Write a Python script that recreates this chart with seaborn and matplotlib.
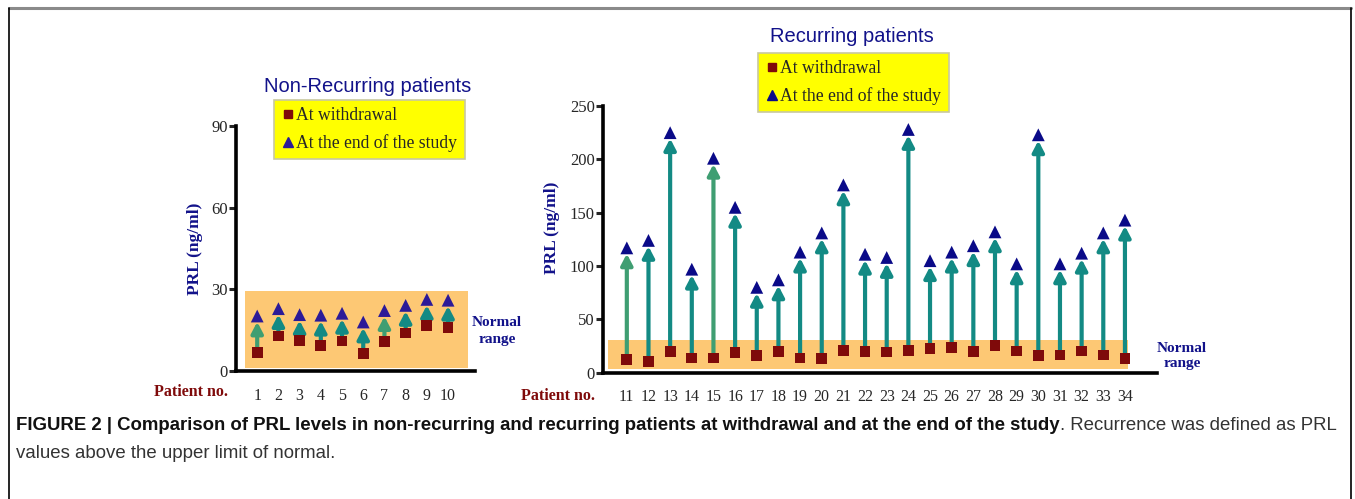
import matplotlib
matplotlib.use('Agg')
import matplotlib.pyplot as plt
import seaborn as sns
import numpy as np
from matplotlib.lines import Line2D

sns.set_style('white')
plt.rcParams['font.family'] = ['Liberation Serif', 'DejaVu Serif']

# data
non_rec_patients = list(range(1, 11))
non_rec_withdrawal = [6.7, 12.9, 11.3, 9.4, 11.0, 6.3, 10.7, 14.0, 16.7, 15.9]
non_rec_end = [20.2, 22.9, 20.7, 20.5, 21.2, 18.0, 22.2, 24.1, 26.3, 26.0]

rec_patients = list(range(11, 35))
rec_withdrawal = [12.5, 10.3, 20.0, 13.8, 13.8, 19.0, 16.0, 20.0, 13.8, 13.0, 21.0, 20.0,
                  19.4, 21.0, 22.5, 23.8, 19.7, 25.6, 20.3, 16.0, 16.6, 20.3, 16.6, 13.4]
rec_end = [117, 124, 225, 97, 201, 155, 80, 87, 113, 131, 176, 111,
           108, 228, 105, 113, 119, 132, 102, 223, 102, 112, 131, 143]

non_rec_normal = (1, 29.5)
rec_normal = (3, 31)

RED = '#7f0a0a'
NAVY = '#12128a'
TEAL = '#138a84'
LIGHT_TEAL = '#3f9e72'
BAND = '#fdc874'

fig = plt.figure(figsize=(13.55, 4.99), dpi=100)


def panel(ax, pats, wd, end, normal, xlim, ylim, yticks, band_x, tri_color, light,
          title, title_xy, leg_xy, normal_xy, ylab_xy):
    ax.fill_between(band_x, normal[0], normal[1], color=BAND, lw=0, zorder=0)
    for p, a, b in zip(pats, wd, end):
        col = LIGHT_TEAL if p in light else TEAL
        ax.annotate('', xy=(p, b), xytext=(p, a),
                    arrowprops=dict(arrowstyle='-|>,head_width=0.34,head_length=0.65',
                                    lw=3.0, color=col, shrinkA=3, shrinkB=4.2), zorder=2)
    sns.scatterplot(x=pats, y=wd, marker='s', color=RED, s=60, edgecolor='none', ax=ax, zorder=3)
    sns.scatterplot(x=pats, y=end, marker='^', color=tri_color, s=85, edgecolor='none', ax=ax, zorder=3)
    ax.set_xlim(*xlim)
    ax.set_ylim(*ylim)
    ax.set_yticks(yticks)
    ax.set_xticks(pats)
    ax.set_xticklabels([str(p) for p in pats])
    ax.tick_params(axis='x', length=0, labelsize=11.5, pad=12)
    ax.tick_params(axis='y', length=5, width=2.2, direction='out', labelsize=12, pad=1)
    ax.yaxis.set_ticks_position('left')
    for s in ['top', 'right']:
        ax.spines[s].set_visible(False)
    for s in ['left', 'bottom']:
        ax.spines[s].set_linewidth(2.6)
        ax.spines[s].set_color('black')
    ax.set_ylabel('PRL (ng/ml)', fontweight='bold', color=NAVY, fontsize=12.5)
    ax.yaxis.set_label_coords(*ylab_xy)
    ax.annotate('Patient no.', xy=(0, -0.087), xycoords='axes fraction', xytext=(-5.5, 0),
                textcoords='offset points', ha='right', va='center',
                fontweight='bold', color=RED, fontsize=11.5)
    fig.text(normal_xy[0], normal_xy[1], 'Normal\nrange', ha='center', va='center',
             fontweight='bold', color=NAVY, fontsize=11, linespacing=1.3)
    fig.text(title_xy[0], title_xy[1], title, ha='center', va='center', color=NAVY,
             fontsize=14.5, family=['Liberation Sans', 'DejaVu Sans'])
    handles = [Line2D([], [], ls='none', marker='s', color=RED, markersize=6),
               Line2D([], [], ls='none', marker='^', color=tri_color, markersize=7.5)]
    leg = ax.legend(handles, ['At withdrawal', 'At the end of the study'],
                    loc='upper left', bbox_to_anchor=leg_xy, bbox_transform=fig.transFigure,
                    frameon=True, fancybox=False, facecolor='#ffff00', edgecolor='#c8c8a0',
                    framealpha=1, fontsize=12.7, handlelength=0.7, handletextpad=0.15,
                    labelspacing=0.55, borderpad=0.42, borderaxespad=0)
    leg.get_frame().set_linewidth(1.2)


ax1 = fig.add_axes([236 / 1355, 1 - 371 / 499, 239 / 1355, 245 / 499])
panel(ax1, non_rec_patients, non_rec_withdrawal, non_rec_end, non_rec_normal,
      (0, 11.27), (0, 90), [0, 30, 60, 90], (0.42, 10.94), '#2c1a98', [1, 7],
      'Non-Recurring patients', (368 / 1355, 1 - 86 / 499), (274 / 1355, 1 - 100 / 499),
      (497 / 1355, 1 - 331 / 499), (-0.138, 0.5))

ax2 = fig.add_axes([603 / 1355, 1 - 372.7 / 499, 554 / 1355, 266.7 / 499])
panel(ax2, rec_patients, rec_withdrawal, rec_end, rec_normal,
      (9.9, 35.48), (0, 250), [0, 50, 100, 150, 200, 250], (10.13, 34.15), '#0a0a88', [11, 15],
      'Recurring patients', (852 / 1355, 1 - 37 / 499), (758 / 1355, 1 - 53 / 499),
      (1182 / 1355, 1 - 356 / 499), (-0.077, 0.543))

# frame round the figure
fig.add_artist(Line2D([9 / 1355, 1351 / 1355], [1 - 8 / 499, 1 - 8 / 499], color='#8a8a8a', lw=2.2))
fig.add_artist(Line2D([9 / 1355, 9 / 1355], [0, 1 - 8 / 499], color='black', lw=1.2))
fig.add_artist(Line2D([1351 / 1355, 1351 / 1355], [0, 1 - 8 / 499], color='black', lw=1.2))

# caption, sized so the first line runs from x=16 to x=1336
cap_font = ['Liberation Sans', 'DejaVu Sans']
bold_part = 'FIGURE 2 | Comparison of PRL levels in non-recurring and recurring patients at withdrawal and at the end of the study'
rest_part = '. Recurrence was defined as PRL'
W = fig.bbox.width
t1 = fig.text(16 / 1355, 1 - 426 / 499, bold_part, fontweight='bold', fontsize=12,
              family=cap_font, va='center', ha='left', color='#111111')
t2 = fig.text(0.5, 1 - 426 / 499, rest_part, fontsize=12, family=cap_font,
              va='center', ha='left', color='#333333')
t3 = fig.text(16 / 1355, 1 - 454 / 499, 'values above the upper limit of normal.', fontsize=12,
              family=cap_font, va='center', ha='left', color='#333333')
fig.canvas.draw()
r = fig.canvas.get_renderer()
w = t1.get_window_extent(r).width + t2.get_window_extent(r).width
size = 12 * 1320 / w
for t in (t1, t2, t3):
    t.set_fontsize(size)
fig.canvas.draw()
t2.set_x(t1.get_window_extent(r).x1 / W)

fig.savefig('out.png', dpi=100)
